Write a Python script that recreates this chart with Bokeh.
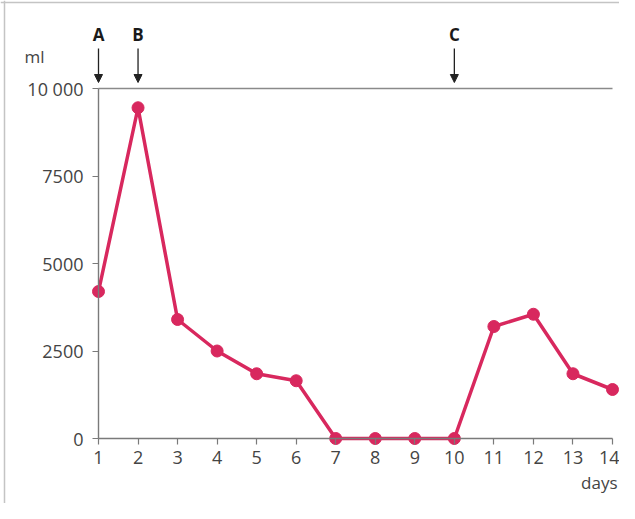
from bokeh.plotting import figure
from bokeh.models import (Range1d, LinearAxis, FixedTicker, Arrow, NormalHead,
                          Span, Label, ColumnDataSource)
from bokeh.core.properties import value
from bokeh.embed import file_html
from bokeh.resources import INLINE

# ---- data ----
days = [1, 2, 3, 4, 5, 6, 7, 8, 9, 10, 11, 12, 13, 14]
volume_ml = [4200, 9450, 3400, 2500, 1850, 1650, 0, 0, 0, 0, 3200, 3550, 1850, 1400]
y_ticks = [0, 2500, 5000, 7500, 10000]
y_tick_labels = {0: "0", 2500: "2500", 5000: "5000", 7500: "7500", 10000: "10 000"}
event_days = [1, 2, 10]
event_labels = ["A", "B", "C"]
y_max = 10000

# ---- layout (pixels inside the figure) ----
W, H = 619, 503
PX_DAY1, PX_DAY14 = 98, 612          # x pixel of first / last day
PY_ZERO, PY_MAX = 438, 88            # y pixel of 0 and of y_max
PPD = (PX_DAY14 - PX_DAY1) / (days[-1] - days[0])
PPY = (PY_ZERO - PY_MAX) / y_max
x_start = days[0] - PX_DAY1 / PPD
x_end = x_start + W / PPD
y_end = PY_ZERO / PPY
y_start = y_end - H / PPY


def dx(px):
    return x_start + px / PPD


def dy(py):
    return (PY_ZERO - py) / PPY


PINK = "#d8285e"
AXIS = "#7a7a7a"
TXT = "#444444"
FONT = "Open Sans"

p = figure(width=W, height=H, output_backend="svg", toolbar_location=None,
           x_axis_type=None, y_axis_type=None,
           x_range=Range1d(x_start, x_end), y_range=Range1d(y_start, y_end),
           min_border=0, outline_line_color=None, background_fill_color="white",
           border_fill_color="white")
p.xgrid.visible = False
p.ygrid.visible = False

# outer frame lines (left and top)
p.add_layout(Span(location=dx(4), dimension="height", line_color="#c4c4c4", line_width=1.5))
p.add_layout(Span(location=dy(2), dimension="width", line_color="#c4c4c4", line_width=1.5))

# axes
xaxis = LinearAxis(fixed_location=0, bounds=(days[0], days[-1]),
                   ticker=FixedTicker(ticks=days))
yaxis = LinearAxis(fixed_location=days[0], bounds=(0, y_max),
                   ticker=FixedTicker(ticks=y_ticks),
                   major_label_overrides=y_tick_labels)
for ax in (xaxis, yaxis):
    ax.axis_line_color = AXIS
    ax.axis_line_width = 1.4
    ax.major_tick_line_color = AXIS
    ax.major_tick_line_width = 1.2
    ax.major_tick_out = 6
    ax.major_tick_in = 0
    ax.minor_tick_line_color = None
    ax.major_label_text_color = TXT
    ax.major_label_text_font = FONT
xaxis.major_label_text_font_size = "18px"
xaxis.major_label_standoff = 6
yaxis.major_label_text_font_size = "18px"
yaxis.major_label_standoff = 9
p.add_layout(xaxis, "below")
p.add_layout(yaxis, "left")

# top reference line at the axis maximum
p.segment(x0=[days[0]], x1=[days[-1]], y0=[y_max], y1=[y_max],
          line_color="#8a8a8a", line_width=1.5)

# data series
p.line(days, volume_ml, line_color=PINK, line_width=3.5)
p.scatter(days, volume_ml, size=12, fill_color=PINK, line_color=PINK)

# event arrows and letters
ev = ColumnDataSource(dict(x=event_days,
                           y0=[dy(48)] * len(event_days),
                           y1=[dy(82)] * len(event_days)))
p.add_layout(Arrow(end=NormalHead(size=8, fill_color="#222222", line_color="#222222"),
                   x_start="x", y_start="y0", x_end="x", y_end="y1", source=ev,
                   line_color="#222222", line_width=1.3))
p.text(x=event_days, y=[dy(34)] * len(event_days), text=event_labels,
       text_font=value(FONT), text_font_style="bold", text_font_size="17px",
       text_align="center", text_baseline="middle", text_color="#1a1a1a")

# axis titles
p.add_layout(Label(x=dx(24), y=dy(56), text="ml", text_font=FONT, text_font_size="17px",
                   text_color=TXT, text_align="left", text_baseline="middle"))
p.add_layout(Label(x=dx(617), y=dy(482), text="days", text_font=FONT, text_font_size="17px",
                   text_color=TXT, text_align="right", text_baseline="middle"))

open("out.html", "w").write(file_html(p, INLINE))
